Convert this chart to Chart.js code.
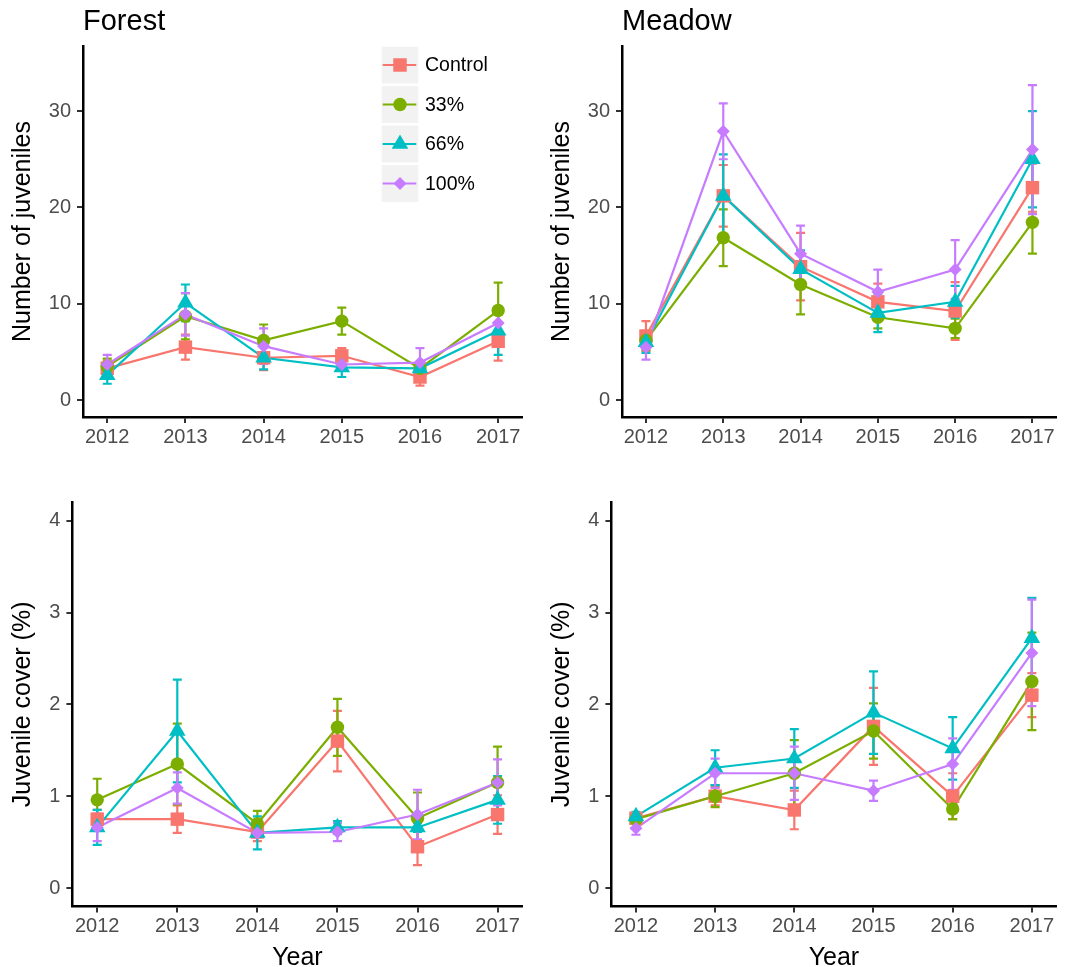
<!DOCTYPE html>
<html><head><meta charset="utf-8">
<script src="https://cdn.jsdelivr.net/npm/chart.js@4.4.1/dist/chart.umd.min.js"></script>
<style>
html,body{margin:0;padding:0;background:#ffffff;}
body{width:1066px;height:967px;position:relative;overflow:hidden;}
.panel{position:absolute;}
.panel canvas{display:block;}
</style></head><body>
<div class="panel" style="left:0px;top:0px;width:539px;height:460px"><canvas id="c1" width="539" height="460"></canvas></div>
<div class="panel" style="left:539px;top:0px;width:527px;height:460px"><canvas id="c2" width="527" height="460"></canvas></div>
<div class="panel" style="left:0px;top:460px;width:539px;height:507px"><canvas id="c3" width="539" height="507"></canvas></div>
<div class="panel" style="left:539px;top:460px;width:527px;height:507px"><canvas id="c4" width="527" height="507"></canvas></div>
<script>
// ---------- data ----------
const YEARS = [2012, 2013, 2014, 2015, 2016, 2017];
const SERIES = ['Control', '33%', '66%', '100%'];
const COUNT_TICKS = [0, 10, 20, 30];
const COVER_TICKS = [0, 1, 2, 3, 4];

// Forest – number of juveniles (mean, standard error)
const forestCountControl = [3.3, 5.5, 4.4, 4.6, 2.4, 6.1];
const forestCountControlSE = [0.8, 1.3, 1.3, 0.8, 0.9, 2.0];
const forestCount33 = [3.5, 8.7, 6.2, 8.2, 3.3, 9.3];
const forestCount33SE = [0.8, 2.4, 1.65, 1.4, 0.5, 2.9];
const forestCount66 = [2.6, 10.1, 4.4, 3.4, 3.3, 7.2];
const forestCount66SE = [0.9, 1.9, 1.2, 1.0, 0.4, 2.5];
const forestCount100 = [3.7, 8.9, 5.6, 3.7, 3.9, 8.0];
const forestCount100SE = [1.0, 2.2, 1.85, 0.5, 1.5, 1.0];

// Meadow – number of juveniles
const meadowCountControl = [6.65, 21.2, 13.85, 10.2, 9.25, 22.05];
const meadowCountControlSE = [1.55, 3.2, 3.5, 1.9, 3.0, 2.5];
const meadowCount33 = [6.2, 16.85, 12.0, 8.6, 7.45, 18.45];
const meadowCount33SE = [1.0, 2.95, 3.1, 1.15, 1.0, 3.25];
const meadowCount66 = [6.0, 21.2, 13.6, 9.05, 10.2, 25.0];
const meadowCount66SE = [1.1, 4.3, 1.95, 2.0, 1.65, 5.0];
const meadowCount100 = [5.5, 27.9, 15.2, 11.25, 13.55, 26.0];
const meadowCount100SE = [1.3, 2.9, 2.9, 2.3, 3.05, 6.7];

// Forest – juvenile cover (%)
const forestCoverControl = [0.75, 0.75, 0.61, 1.6, 0.45, 0.8];
const forestCoverControlSE = [0.1, 0.15, 0.1, 0.33, 0.2, 0.21];
const forestCover33 = [0.96, 1.35, 0.70, 1.75, 0.76, 1.15];
const forestCover33SE = [0.23, 0.44, 0.14, 0.31, 0.28, 0.39];
const forestCover66 = [0.66, 1.71, 0.60, 0.66, 0.66, 0.96];
const forestCover66SE = [0.19, 0.56, 0.18, 0.07, 0.05, 0.26];
const forestCover100 = [0.66, 1.09, 0.60, 0.61, 0.80, 1.15];
const forestCover100SE = [0.15, 0.17, 0.05, 0.1, 0.27, 0.25];

// Meadow – juvenile cover (%)
const meadowCoverControl = [0.76, 1.0, 0.85, 1.76, 1.0, 2.1];
const meadowCoverControlSE = [0.05, 0.1, 0.21, 0.42, 0.25, 0.24];
const meadowCover33 = [0.75, 1.0, 1.25, 1.71, 0.86, 2.25];
const meadowCover33SE = [0.04, 0.12, 0.36, 0.3, 0.11, 0.53];
const meadowCover66 = [0.78, 1.31, 1.41, 1.91, 1.52, 2.72];
const meadowCover66SE = [0.05, 0.19, 0.32, 0.45, 0.34, 0.44];
const meadowCover100 = [0.65, 1.25, 1.25, 1.06, 1.35, 2.56];
const meadowCover100SE = [0.07, 0.16, 0.29, 0.11, 0.28, 0.58];

// ---------- style ----------
const FONT = "'Liberation Sans', Arial, Helvetica, sans-serif";
const COLORS = ['#F8766D', '#7CAE00', '#00BFC4', '#C77CFF'];
const SHAPES = ['rect', 'circle', 'triangle', 'rectRot'];
const RADII = [9.5, 6.7, 9.6, 6.5];
const LINE_W = 2.2;

function drawMarker(ctx, style, r, x, y, color) {
  ctx.save();
  ctx.fillStyle = color;
  ctx.strokeStyle = color;
  if (Chart.helpers && Chart.helpers.drawPoint) {
    Chart.helpers.drawPoint(ctx, {pointStyle: style, radius: r, rotation: 0, borderWidth: 0}, x, y);
  }
  ctx.restore();
}

function makePanel(id, cfg) {
  const datasets = [];
  cfg.means.forEach((m, i) => {
    datasets.push({
      label: SERIES[i] + ' line',
      data: YEARS.map((yr, k) => ({x: yr, y: m[k]})),
      borderColor: COLORS[i], backgroundColor: COLORS[i],
      borderWidth: LINE_W, pointRadius: 0, pointHoverRadius: 0,
      tension: 0, fill: false, order: 7 - i, clip: false
    });
  });
  cfg.means.forEach((m, i) => {
    datasets.push({
      label: SERIES[i],
      data: YEARS.map((yr, k) => ({x: yr, y: m[k]})),
      showLine: false,
      pointStyle: SHAPES[i], pointRadius: RADII[i], pointHoverRadius: RADII[i],
      pointBackgroundColor: COLORS[i], pointBorderWidth: 0, pointBorderColor: COLORS[i],
      order: 3 - i, clip: false
    });
  });

  const deco = {
    id: 'deco',
    beforeDatasetsDraw(chart) {
      const ctx = chart.ctx, xs = chart.scales.x, ys = chart.scales.y;
      ctx.save();
      ctx.lineWidth = LINE_W;
      ctx.lineCap = 'butt';
      cfg.means.forEach((m, i) => {
        ctx.strokeStyle = COLORS[i];
        m.forEach((v, k) => {
          const e = cfg.errs[i][k];
          const px = xs.getPixelForValue(YEARS[k]);
          const y1 = ys.getPixelForValue(v + e), y2 = ys.getPixelForValue(v - e);
          ctx.beginPath();
          ctx.moveTo(px, y1); ctx.lineTo(px, y2);
          ctx.moveTo(px - 4.5, y1); ctx.lineTo(px + 4.5, y1);
          ctx.moveTo(px - 4.5, y2); ctx.lineTo(px + 4.5, y2);
          ctx.stroke();
        });
      });
      ctx.restore();
    },
    afterDraw(chart) {
      const ctx = chart.ctx, a = chart.chartArea;
      ctx.save();
      ctx.fillStyle = '#000000';
      // panel title
      if (cfg.title) {
        ctx.font = '29px ' + FONT;
        ctx.textAlign = 'left';
        ctx.textBaseline = 'alphabetic';
        ctx.fillText(cfg.title, a.left, 30.3);
      }
      // y axis title
      ctx.save();
      ctx.font = '25px ' + FONT;
      ctx.translate(29.5, (a.top + a.bottom) / 2);
      ctx.rotate(-Math.PI / 2);
      ctx.textAlign = 'center';
      ctx.textBaseline = 'alphabetic';
      ctx.fillText(cfg.yTitle, 0, 0);
      ctx.restore();
      // x axis title
      if (cfg.xTitle) {
        ctx.font = '25px ' + FONT;
        ctx.textAlign = 'center';
        ctx.textBaseline = 'alphabetic';
        ctx.fillText(cfg.xTitle, (a.left + a.right) / 2, 505);
      }
      // legend
      if (cfg.legend) {
        const bx = 381.7, bw = 36.6, top0 = 46.7, pitch = 39.5;
        SERIES.forEach((name, i) => {
          const by = top0 + i * pitch;
          ctx.fillStyle = '#F2F2F2';
          ctx.fillRect(bx, by, bw, bw);
          const cy = by + bw / 2;
          ctx.strokeStyle = COLORS[i];
          ctx.lineWidth = LINE_W;
          ctx.beginPath();
          ctx.moveTo(bx + 1, cy); ctx.lineTo(bx + bw - 2, cy);
          ctx.stroke();
          drawMarker(ctx, SHAPES[i], RADII[i], bx + bw / 2, cy, COLORS[i]);
          ctx.fillStyle = '#000000';
          ctx.font = '19.5px ' + FONT;
          ctx.textAlign = 'left';
          ctx.textBaseline = 'middle';
          ctx.fillText(name, 425, cy + 1);
        });
      }
      ctx.restore();
    }
  };

  return new Chart(document.getElementById(id), {
    type: 'line',
    data: {datasets},
    plugins: [deco],
    options: {
      responsive: false,
      animation: false,
      events: [],
      layout: {padding: {top: cfg.padTop, right: cfg.padRight, left: 0, bottom: 0}},
      plugins: {legend: {display: false}, tooltip: {enabled: false}, title: {display: false}},
      scales: {
        x: {
          type: 'linear', min: 2011.69, max: 2017.31,
          afterBuildTicks: s => { s.ticks = YEARS.map(v => ({value: v})); },
          afterFit: s => { s.height = cfg.xH; },
          ticks: {callback: v => String(v), color: '#4D4D4D', font: {size: 20, family: FONT}, padding: 2, maxRotation: 0, autoSkip: false},
          grid: {display: true, drawOnChartArea: false, drawTicks: true, tickLength: 6, tickColor: '#333333', tickWidth: 2, color: '#333333', lineWidth: 2},
          border: {display: true, color: '#000000', width: 2.5}
        },
        y: {
          type: 'linear', min: cfg.yMin, max: cfg.yMax,
          afterBuildTicks: s => { s.ticks = cfg.yTicks.map(v => ({value: v})); },
          afterFit: s => { s.width = cfg.yW; },
          ticks: {callback: v => String(v), color: '#4D4D4D', font: {size: 20, family: FONT}, padding: 6},
          grid: {display: true, drawOnChartArea: false, drawTicks: true, tickLength: 6, tickColor: '#333333', tickWidth: 2, color: '#333333', lineWidth: 2},
          border: {display: true, color: '#000000', width: 2.5}
        }
      }
    }
  });
}

makePanel('c1', {
  title: 'Forest', yTitle: 'Number of juveniles', legend: true,
  means: [forestCountControl, forestCount33, forestCount66, forestCount100],
  errs: [forestCountControlSE, forestCount33SE, forestCount66SE, forestCount100SE],
  yMin: -1.75, yMax: 36.75, yTicks: COUNT_TICKS,
  padTop: 46, padRight: 16.6, yW: 83, xH: 43
});
makePanel('c2', {
  title: 'Meadow', yTitle: 'Number of juveniles',
  means: [meadowCountControl, meadowCount33, meadowCount66, meadowCount100],
  errs: [meadowCountControlSE, meadowCount33SE, meadowCount66SE, meadowCount100SE],
  yMin: -1.75, yMax: 36.75, yTicks: COUNT_TICKS,
  padTop: 46, padRight: 4.5, yW: 83, xH: 43
});
makePanel('c3', {
  yTitle: 'Juvenile cover (%)', xTitle: 'Year',
  means: [forestCoverControl, forestCover33, forestCover66, forestCover100],
  errs: [forestCoverControlSE, forestCover33SE, forestCover66SE, forestCover100SE],
  yMin: -0.2, yMax: 4.2, yTicks: COVER_TICKS,
  padTop: 42.3, padRight: 16.6, yW: 72.4, xH: 60.6
});
makePanel('c4', {
  yTitle: 'Juvenile cover (%)', xTitle: 'Year',
  means: [meadowCoverControl, meadowCover33, meadowCover66, meadowCover100],
  errs: [meadowCoverControlSE, meadowCover33SE, meadowCover66SE, meadowCover100SE],
  yMin: -0.2, yMax: 4.2, yTicks: COVER_TICKS,
  padTop: 42.3, padRight: 4.5, yW: 72.4, xH: 60.6
});
</script>
</body></html>
